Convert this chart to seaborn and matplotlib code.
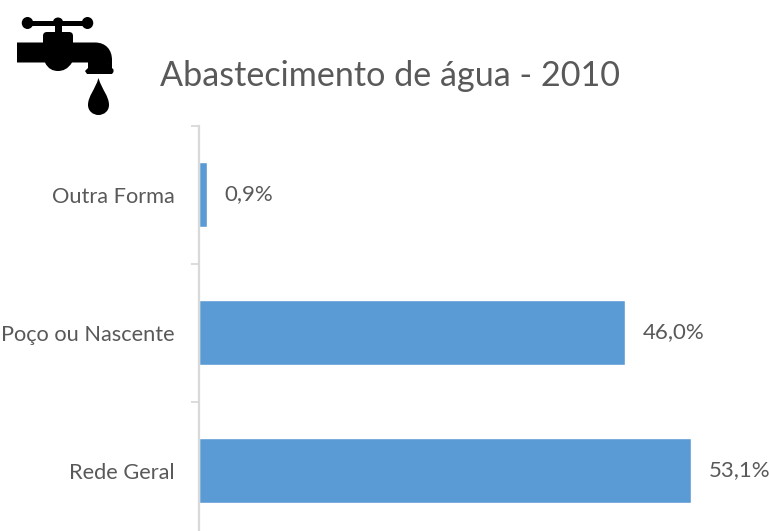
import matplotlib
matplotlib.use("Agg")
import matplotlib.pyplot as plt
from matplotlib.patches import Ellipse, FancyBboxPatch, PathPatch, Rectangle
from matplotlib.path import Path
import pandas as pd
import seaborn as sns

categories = ["Outra Forma", "Poço ou Nascente", "Rede Geral"]
values = [0.9, 46.0, 53.1]
title = "Abastecimento de água - 2010"

W, H = 769, 531
BAR = "#5B9BD5"
TEXT = "#595959"
AXIS = "#D9D9D9"

sns.set_theme(style="white")
plt.rcParams["font.family"] = ["Lato", "DejaVu Sans"]

fig = plt.figure(figsize=(W / 100, H / 100), dpi=100, facecolor="white")
left, right, top, bottom = 199, 769, 125.5, 539.5
ax = fig.add_axes([left / W, 1 - bottom / H, (right - left) / W, (bottom - top) / H])

df = pd.DataFrame({"categoria": categories, "valor": values})
sns.barplot(data=df, y="categoria", x="valor", color=BAR, saturation=1,
            width=0.475, orient="y", ax=ax)
ax.set_xlim(0, (right - left) / 9.27)
ax.set_ylim(2.5, -0.5)
ax.set_xlabel("")
ax.set_ylabel("")
ax.xaxis.set_visible(False)
for s in ["top", "right", "bottom"]:
    ax.spines[s].set_visible(False)
ax.spines["left"].set_color(AXIS)
ax.spines["left"].set_linewidth(1.6)
ax.set_yticks([-0.5, 0.5, 1.5], minor=True)
ax.tick_params(axis="y", which="minor", length=6, width=1.3, color=AXIS, left=True)
ax.tick_params(axis="y", which="major", length=0, pad=17.2, labelsize=15.7, labelcolor=TEXT)

for c in ax.containers:
    ax.bar_label(c, labels=[f"{v:.1f}%".replace(".", ",") for v in values],
                 padding=12.5, fontsize=16, color=TEXT)

fig.text(160 / W, 1 - 76 / H, title, fontsize=24.6, color=TEXT, ha="left", va="center")

# Faucet icon, drawn in pixel coordinates on a transparent overlay
ov = fig.add_axes([0, 0, 1, 1], facecolor="none")
ov.set_xlim(0, W)
ov.set_ylim(H, 0)
ov.axis("off")
K = "black"
ov.add_patch(Rectangle((28, 20.5), 60, 5.5, color=K, lw=0))
ov.add_patch(Ellipse((27.5, 23), 11.5, 12, color=K, lw=0))
ov.add_patch(Ellipse((58, 22), 10, 9, color=K, lw=0))
ov.add_patch(Ellipse((87.5, 23), 11.5, 12, color=K, lw=0))
ov.add_patch(Rectangle((55, 22), 6.5, 12, color=K, lw=0))
ov.add_patch(FancyBboxPatch((43, 32), 30, 14, boxstyle="round,pad=0,rounding_size=4", color=K, lw=0))
body = [
    (Path.MOVETO, (17, 42.5)), (Path.LINETO, (95, 42.5)),
    (Path.CURVE4, (106, 42.5)), (Path.CURVE4, (112, 50)), (Path.CURVE4, (112, 60)),
    (Path.LINETO, (112, 68)), (Path.LINETO, (113.5, 69.5)), (Path.LINETO, (113.5, 72)),
    (Path.LINETO, (112, 74)), (Path.LINETO, (87, 74)), (Path.LINETO, (85, 71)),
    (Path.LINETO, (88, 68)),
    (Path.LINETO, (88, 62.5)), (Path.LINETO, (72, 62.5)),
    (Path.CURVE4, (68, 69)), (Path.CURVE4, (63, 71)), (Path.CURVE4, (58, 71)),
    (Path.CURVE4, (53, 71)), (Path.CURVE4, (48, 69)), (Path.CURVE4, (45, 62.5)),
    (Path.LINETO, (17, 62.5)), (Path.CLOSEPOLY, (17, 42.5)),
]
ov.add_patch(PathPatch(Path([p for _, p in body], [c for c, _ in body]), color=K, lw=0))
drop = [
    (Path.MOVETO, (98.5, 78)),
    (Path.CURVE4, (95, 90)), (Path.CURVE4, (88, 96)), (Path.CURVE4, (88, 105)),
    (Path.CURVE4, (88, 111)), (Path.CURVE4, (93, 115)), (Path.CURVE4, (98.5, 115)),
    (Path.CURVE4, (104, 115)), (Path.CURVE4, (109, 111)), (Path.CURVE4, (109, 105)),
    (Path.CURVE4, (109, 96)), (Path.CURVE4, (102, 90)), (Path.CURVE4, (98.5, 78)),
    (Path.CLOSEPOLY, (98.5, 78)),
]
ov.add_patch(PathPatch(Path([p for _, p in drop], [c for c, _ in drop]), color=K, lw=0))

fig.savefig("out.png", dpi=100, facecolor="white")
